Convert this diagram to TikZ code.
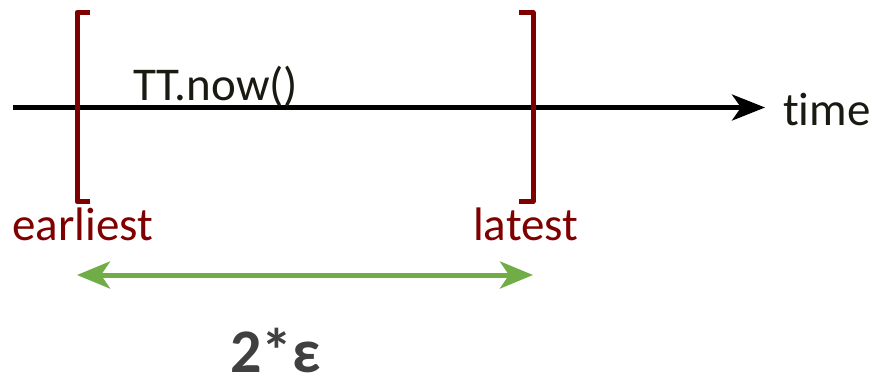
\documentclass[tikz,border=0pt]{standalone}
\usepackage{fontspec}
\setmainfont[Ligatures=NoCommon]{Carlito}
\usetikzlibrary{arrows.meta}
\definecolor{brk}{HTML}{7F0000}
\definecolor{grn}{HTML}{70AD47}
\definecolor{txt}{HTML}{1A1A12}
\definecolor{gry}{HTML}{404040}
\tikzset{
  lbl/.style={anchor=base west, inner sep=0pt, font=\fontsize{47}{56}\selectfont},
  bracketline/.style={draw=brk, line width=5pt, line join=round, line cap=butt},
  axis/.style={draw=black, line width=4.5pt, -{Stealth[length=33pt,width=26pt,inset=9pt]}},
  span/.style={draw=grn, line width=5pt, {Stealth[length=33pt,width=27pt,inset=9pt]}-{Stealth[length=33pt,width=27pt,inset=9pt]}}
}
\begin{document}
\begin{tikzpicture}[x=1pt,y=-1pt]
\useasboundingbox (0,0) rectangle (872,381);
% coordinates
\coordinate (t0) at (13,107.5);
\coordinate (t1) at (765,107.5);
\coordinate (e0) at (77,275);
\coordinate (e1) at (533,275);
% time axis
\draw[axis] (t0) -- (t1);
% brackets
\draw[bracketline] (90,12.5) -- (77,12.5) -- (77,201.5) -- (90,201.5);
\draw[bracketline] (519,12.5) -- (533,12.5) -- (533,201.5) -- (519,201.5);
% epsilon span
\draw[span] (e0) -- (e1);
% labels
\node[lbl, text=txt] (now) at (133,100) {TT.now()};
\node[lbl, text=txt] (time) at (783,125) {time};
\node[lbl, text=brk] (earliest) at (12,240) {earliest};
\node[lbl, text=brk] (latest) at (473,240) {latest};
\node[anchor=base west, inner sep=0pt, text=gry, font=\fontsize{62}{70}\selectfont\bfseries] (eps) at (230,372) {2*ε};
\end{tikzpicture}
\end{document}
